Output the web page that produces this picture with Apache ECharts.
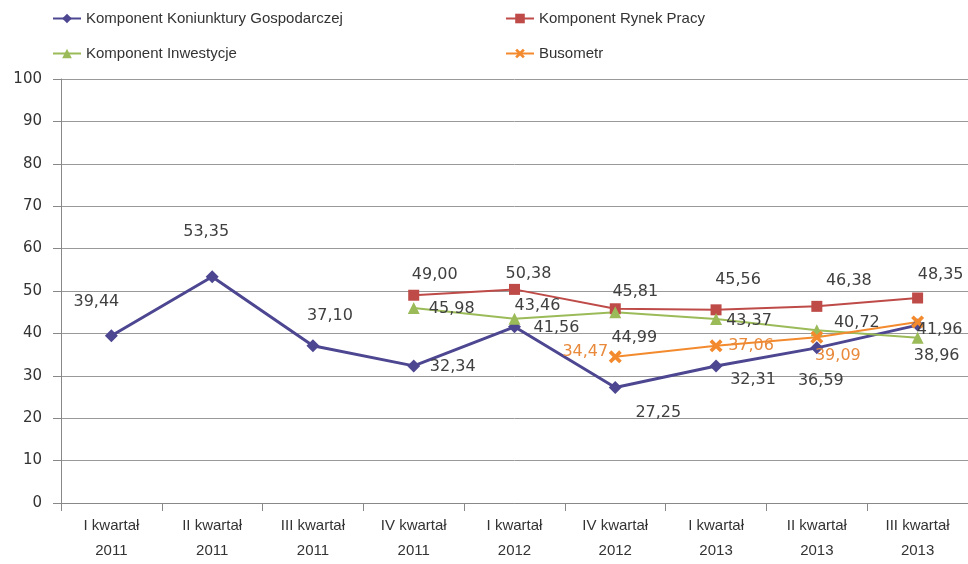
<!DOCTYPE html>
<html>
<head>
<meta charset="utf-8">
<script src="https://cdn.jsdelivr.net/npm/echarts@6/dist/echarts.min.js"></script>
<style>
  html, body { margin: 0; padding: 0; background: #fff; }
  #Chart { width: 968px; height: 564px; }
</style>
</head>
<body>
<div id="Chart"></div>
<script>
// kwartały
const categories = ['I kwartał\n2011', 'II kwartał\n2011', 'III kwartał\n2011', 'IV kwartał\n2011',
  'I kwartał\n2012', 'IV kwartał\n2012', 'I kwartał\n2013', 'II kwartał\n2013', 'III kwartał\n2013'];

const koniunktura = [39.44, 53.35, 37.10, 32.34, 41.56, 27.25, 32.31, 36.59, 41.96];
const rynekPracy = [null, null, null, 49.00, 50.38, 45.81, 45.56, 46.38, 48.35];
const inwestycje = [null, null, null, 45.98, 43.46, 44.99, 43.37, 40.72, 38.96];
const busometr = [null, null, null, null, null, 34.47, 37.06, 39.09, 42.7];

const yTicks = { min: 0, max: 100, interval: 10 };

// przesuniecia etykiet wzgledem punktu (styl, nie dane)
const offKon = [[-15, -34], [-6, -45], [17, -30], [39, 1], [42, 1], [43, 25], [37, 14], [4, 33], [22, 5]];
const offRyn = [null, null, null, [21, -20], [14, -16], [20, -17], [22, -30], [32, -26], [23, -23]];
const offInw = [null, null, null, [38, 1], [23, -13], [19, 26], [33, 2], [40, -8], [19, 18]];
const offBus = [null, null, null, null, null, [-30, -5], [35, 0], [21, 19], null];

const fmt = v => v.toFixed(2).replace('.', ',');
const xPath = 'path://M0,2L2,0L5,3L8,0L10,2L7,5L10,8L8,10L5,7L2,10L0,8L3,5Z';

function build(name, values, offs, color, symbol, size, width, labelColor) {
    return {
        name: name,
        type: 'line',
        symbol: symbol,
        symbolSize: size,
        showAllSymbol: true,
        lineStyle: { color: color, width: width },
        itemStyle: { color: color, borderWidth: 0 },
        label: {
            show: true,
            position: 'inside',
            color: labelColor,
            fontFamily: 'DejaVu Sans',
            fontSize: 16,
            formatter: p => fmt(p.value)
        },
        data: values.map((v, i) => {
            if (v == null) return '-';
            const o = offs[i];
            return o ? { value: v, label: { offset: o } } : { value: v, label: { show: false } };
        })
    };
}

const legendText = { color: '#333', fontFamily: 'Liberation Sans', fontSize: 15 };
const legendBase = { itemWidth: 28, itemHeight: 12, itemGap: 4, textStyle: legendText, padding: 0 };

const option = {
    animation: false,
    backgroundColor: '#fff',
    legend: [
        Object.assign({ left: 52, top: 11, data: ['Komponent Koniunktury Gospodarczej'] }, legendBase),
        Object.assign({ left: 505, top: 11, data: ['Komponent Rynek Pracy'] }, legendBase),
        Object.assign({ left: 52, top: 46, data: ['Komponent Inwestycje'] }, legendBase),
        Object.assign({ left: 505, top: 46, data: ['Busometr'] }, legendBase)
    ],
    grid: { left: 61, right: 0, top: 79, bottom: 61, containLabel: false },
    xAxis: {
        type: 'category',
        boundaryGap: true,
        data: categories,
        axisLine: { lineStyle: { color: '#888', width: 1 } },
        axisTick: { show: true, length: 8, lineStyle: { color: '#888' } },
        axisLabel: {
            color: '#333', fontFamily: 'Liberation Sans', fontSize: 15,
            lineHeight: 25, margin: 10, interval: 0
        },
        splitLine: { show: false }
    },
    yAxis: {
        type: 'value',
        min: yTicks.min, max: yTicks.max, interval: yTicks.interval,
        axisLine: { show: true, lineStyle: { color: '#888' } },
        axisTick: { show: true, length: 8, lineStyle: { color: '#888' } },
        axisLabel: { color: '#333', fontFamily: 'DejaVu Sans', fontSize: 15, margin: 19 },
        splitLine: { show: true, lineStyle: { color: '#999', width: 1 } }
    },
    series: [
        build('Komponent Koniunktury Gospodarczej', koniunktura, offKon, '#4D4691', 'diamond', 13, 3, '#404040'),
        build('Komponent Rynek Pracy', rynekPracy, offRyn, '#BE4B48', 'rect', 11, 2, '#404040'),
        build('Komponent Inwestycje', inwestycje, offInw, '#9BBB59', 'triangle', 12, 2, '#404040'),
        build('Busometr', busometr, offBus, '#F38A2E', xPath, 13, 2, '#E8893B')
    ]
};

const myChart = echarts.init(document.getElementById('Chart'));
myChart.setOption(option);
</script>
</body>
</html>
